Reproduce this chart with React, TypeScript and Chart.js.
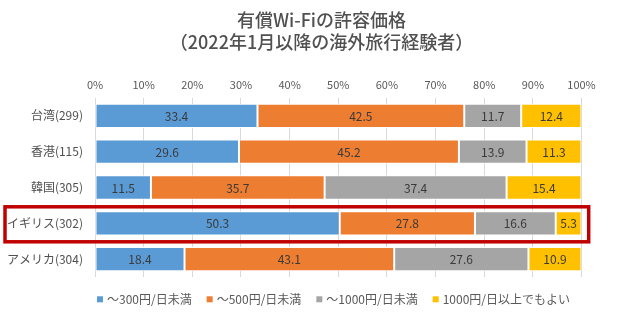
import React, { useEffect, useRef } from "react";
import { Chart, registerables } from "chart.js";

Chart.register(...registerables);

const titleLines = ["有償Wi-Fiの許容価格", "（2022年1月以降の海外旅行経験者）"];
const categories = ["台湾(299)", "香港(115)", "韓国(305)", "イギリス(302)", "アメリカ(304)"];
const seriesNames = ["～300円/日未満", "～500円/日未満", "～1000円/日未満", "1000円/日以上でもよい"];
const under300 = [33.4, 29.6, 11.5, 50.3, 18.4];
const under500 = [42.5, 45.2, 35.7, 27.8, 43.1];
const under1000 = [11.7, 13.9, 37.4, 16.6, 27.6];
const over1000 = [12.4, 11.3, 15.4, 5.3, 10.9];
const highlightCategory = "イギリス(302)";

const colors = ["#5B9BD5", "#ED7D31", "#A5A5A5", "#FFC000"];
const FONT = "'Noto Sans CJK JP', 'Noto Sans', sans-serif";

const dataLabelPlugin = {
  id: "dataLabels",
  afterDatasetsDraw(chart: any) {
    const ctx = chart.ctx;
    ctx.save();
    ctx.font = `12px ${FONT}`;
    ctx.fillStyle = "#3A3A3A";
    ctx.textAlign = "center";
    ctx.textBaseline = "middle";
    chart.data.datasets.forEach((ds: any, di: number) => {
      const meta = chart.getDatasetMeta(di);
      meta.data.forEach((el: any, i: number) => {
        const { x, y, base } = el.getProps(["x", "y", "base"], true);
        const v = ds.data[i];
        ctx.fillText(Number(v).toFixed(1), (x + base) / 2, y + 0.5);
      });
    });
    ctx.restore();
  },
};

const titlePlugin = {
  id: "customTitle",
  afterDraw(chart: any) {
    const ctx = chart.ctx;
    ctx.save();
    ctx.font = `500 18px ${FONT}`;
    ctx.fillStyle = "#505050";
    ctx.textAlign = "center";
    ctx.textBaseline = "middle";
    titleLines.forEach((t, i) => ctx.fillText(t, 321.5, 20.5 + i * 21.5));
    ctx.restore();
  },
};

const legendPlugin = {
  id: "customLegend",
  afterDraw(chart: any) {
    const ctx = chart.ctx;
    ctx.save();
    ctx.font = `12px ${FONT}`;
    ctx.textBaseline = "middle";
    ctx.textAlign = "left";
    const box = 6;
    const gapBoxText = 4;
    const gapItems = 15;
    const widths = chart.data.datasets.map((ds: any) => ctx.measureText(ds.label).width);
    const total =
      widths.reduce((a: number, w: number) => a + box + gapBoxText + w, 0) + gapItems * (widths.length - 1);
    let x = 333.5 - total / 2;
    const yc = chart.chartArea.bottom + 22.3;
    chart.data.datasets.forEach((ds: any, i: number) => {
      ctx.fillStyle = ds.backgroundColor;
      ctx.fillRect(x, yc - box / 2, box, box);
      ctx.fillStyle = "#595959";
      ctx.fillText(ds.label, x + box + gapBoxText, yc + 0.5);
      x += box + gapBoxText + widths[i] + gapItems;
    });
    ctx.restore();
  },
};

const highlightPlugin = {
  id: "highlightBox",
  afterDraw(chart: any) {
    const yScale = chart.scales.y;
    const idx = categories.indexOf(highlightCategory);
    if (idx < 0) return;
    const yc = yScale.getPixelForValue(idx);
    const ctx = chart.ctx;
    ctx.save();
    ctx.strokeStyle = "#C00000";
    ctx.lineWidth = 3.5;
    ctx.strokeRect(5, yc - 16.5, 583.7, 35);
    ctx.restore();
  },
};

export default function App() {
  const ref = useRef<HTMLCanvasElement | null>(null);
  useEffect(() => {
    if (!ref.current) return;
    const data = [under300, under500, under1000, over1000];
    const chart = new Chart(ref.current, {
      type: "bar",
      data: {
        labels: categories,
        datasets: data.map((d, i) => ({
          label: seriesNames[i],
          data: d,
          backgroundColor: colors[i],
          borderColor: "#FFFFFF",
          borderWidth: 1,
          borderSkipped: false,
          categoryPercentage: 1,
          barPercentage: 0.68,
        })),
      },
      options: {
        indexAxis: "y",
        responsive: false,
        animation: false,
        layout: { padding: { left: 0, right: 45.5, top: 52.2, bottom: 50 } },
        scales: {
          x: {
            position: "top",
            stacked: true,
            min: 0,
            max: 100,
            ticks: {
              stepSize: 10,
              callback: (v: any) => `${v}%`,
              font: { size: 11, family: FONT },
              color: "#595959",
              padding: 7,
              maxRotation: 0,
            },
            grid: { color: "#D9D9D9", lineWidth: 1, drawTicks: false },
            border: { display: false },
            afterFit: (s: any) => {
              s.height = 45.8;
            },
          },
          y: {
            stacked: true,
            ticks: {
              font: { size: 12, family: FONT },
              color: "#505050",
              padding: 12,
            },
            grid: { display: false, drawTicks: false },
            border: { display: false },
            afterFit: (s: any) => {
              s.width = 95;
            },
          },
        },
        plugins: {
          title: { display: false },
          legend: { display: false },
          tooltip: { enabled: false },
        },
      },
      plugins: [dataLabelPlugin, titlePlugin, legendPlugin, highlightPlugin],
    } as any);
    return () => chart.destroy();
  }, []);
  return (
    <div style={{ position: "fixed", left: 0, top: 0, width: 627, height: 327, background: "#fff" }}>
      <canvas ref={ref} width={627} height={327} style={{ display: "block" }} />
    </div>
  );
}
